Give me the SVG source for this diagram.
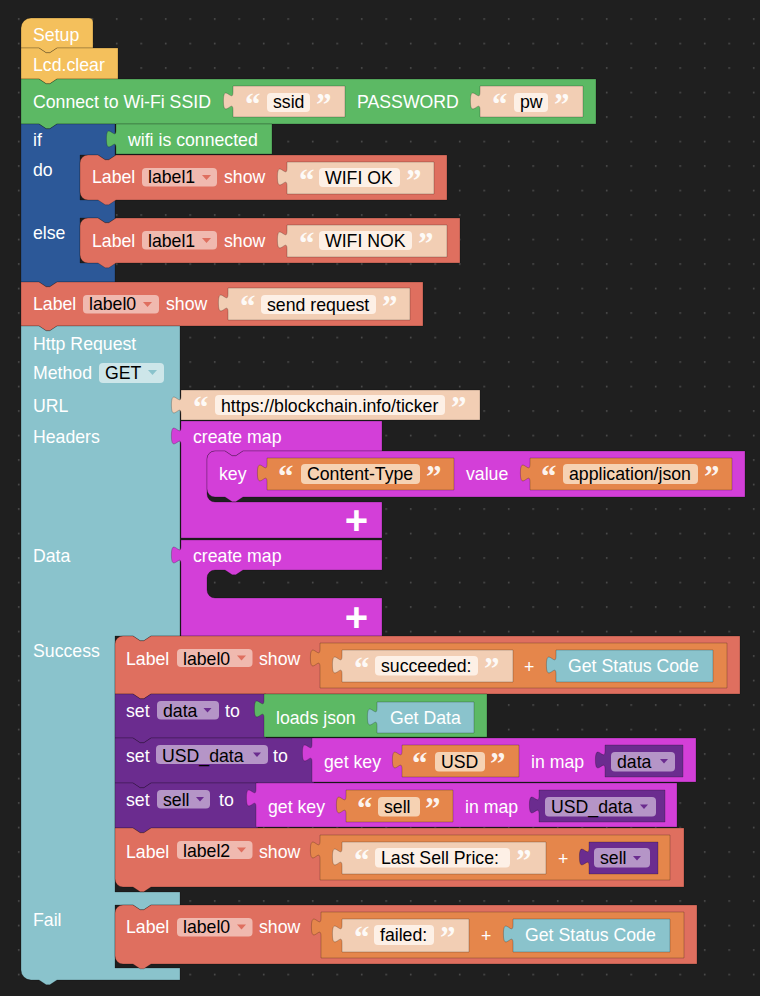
<svg xmlns="http://www.w3.org/2000/svg" width="760" height="996" viewBox="0 0 760 996">
<defs>
<pattern id="grid" x="17.9" y="18.2" width="24.5" height="24.5" patternUnits="userSpaceOnUse">
<rect x="0" y="0" width="1.6" height="1.6" fill="#505050"/>
</pattern>
<style>
.blk{stroke:#000;stroke-opacity:0.22;stroke-width:1}
.y{fill:#f4c05c}.g{fill:#5cb964}.b{fill:#2c5898}.r{fill:#df6f5f}.p{fill:#f2ceb4}.o{fill:#e5864b}.m{fill:#d33fd8}.c{fill:#8ac3cc}.v{fill:#6b2c8f}
.t{font-family:"Liberation Sans",Arial,sans-serif;font-size:17.7px;fill:#fff}
.k{fill:#000}
.q{font-family:"Liberation Serif","Times New Roman",serif;font-weight:bold;font-size:31px;fill:#fff;fill-opacity:0.92}
.plus{font-family:"Liberation Sans",Arial,sans-serif;font-weight:bold;font-size:40px;fill:#fff;text-anchor:middle}
.pl{fill:#f0b9af}.pv{fill:#b595c7}.ps{fill:#fdf0e6}.po{fill:#f6d2b3}.pc{fill:#cde6e9}
.al{fill:#df6f5f}.av{fill:#6b2c8f}.ac{fill:#8ac3cc}
</style>
</defs>
<rect x="0" y="0" width="760" height="996" fill="#1f1f1f"/>
<rect x="0" y="0" width="760" height="996" fill="url(#grid)"/>

<g id="setup">
<path class="blk y" d="M21,48 V28 a10,10 0 0 1 10,-10 H89 a4,4 0 0 1 4,4 V48 H57 l-7.2,4.8 h-3.6 l-7.2,-4.8 H21 Z"/>
<text class="t" x="33" y="40.5">Setup</text>
</g>
<g id="lcd_clear">
<path class="blk y" d="M21,48 H39 l7.2,4.8 h3.6 l7.2,-4.8 H118 V79 H57 l-7.2,4.8 h-3.6 l-7.2,-4.8 H21 Z"/>
<text class="t" x="33" y="71">Lcd.clear</text>
</g>
<g id="connect_wifi">
<path class="blk g" d="M21,79 H39 l7.2,4.8 h3.6 l7.2,-4.8 H596 V124 H57 l-7.2,4.8 h-3.6 l-7.2,-4.8 H21 Z"/>
<text class="t" x="33" y="108">Connect to Wi-Fi SSID</text>
<text class="t" x="357" y="108">PASSWORD</text>
</g>
<g id="ssid">
<path class="blk p" d="M233,86 v6 c0,12 -9.6,-9.6 -9.6,9 s9.6,-3 9.6,9 V117 H345 V86 Z"/>
<text class="q" x="245" y="115">“</text>
<rect class="ps" x="267" y="93" width="43" height="19" rx="4"/>
<text class="t k" x="273" y="108">ssid</text>
<text class="q" x="316" y="115">”</text>
</g>
<g id="pw">
<path class="blk p" d="M480,86 v6 c0,12 -9.6,-9.6 -9.6,9 s9.6,-3 9.6,9 V117 H583 V86 Z"/>
<text class="q" x="492" y="115">“</text>
<rect class="ps" x="514" y="93" width="34" height="19" rx="4"/>
<text class="t k" x="520" y="108">pw</text>
<text class="q" x="554" y="115">”</text>
</g>

<g id="if_block">
<path class="blk b" d="M21,124 H39 l7.2,4.8 h3.6 l7.2,-4.8 H115 V155 H116 l-7.2,4.8 h-3.6 l-7.2,-4.8 H80 V200 H115 V218 H116 l-7.2,4.8 h-3.6 l-7.2,-4.8 H80 V263 H115 V282 H57 l-7.2,4.8 h-3.6 l-7.2,-4.8 H21 Z"/>
<text class="t" x="33" y="146">if</text>
<text class="t" x="33" y="176">do</text>
<text class="t" x="33" y="239">else</text>
</g>
<g id="wifi_connected">
<path class="blk g" d="M116,124 v6 c0,12 -9.6,-9.6 -9.6,9 s9.6,-3 9.6,9 V154 H272 V124 Z"/>
<text class="t" x="128" y="146">wifi is connected</text>
</g>
<g id="label_wifi_ok">
<path class="blk r" d="M80,163 a8,8 0 0 1 8,-8 H98 l7.2,4.8 h3.6 l7.2,-4.8 H447 V200 H116 l-7.2,4.8 h-3.6 l-7.2,-4.8 H88 a8,8 0 0 1 -8,-8 Z"/>
<text class="t" x="92" y="183">Label</text>
<rect class="pl" x="142" y="168" width="75" height="18.5" rx="4"/>
<text class="t k" x="148" y="183">label1</text>
<path class="al" d="M202,175 h9 l-4.5,5 Z"/>
<text class="t" x="224" y="183">show</text>
<path class="blk p" d="M287,162 v6 c0,12 -9.6,-9.6 -9.6,9 s9.6,-3 9.6,9 V194 H434 V162 Z"/>
<text class="q" x="299" y="191">“</text>
<rect class="ps" x="319" y="168" width="81" height="19" rx="4"/>
<text class="t k" x="325" y="184">WIFI OK</text>
<text class="q" x="406" y="191">”</text>
</g>
<g id="label_wifi_nok">
<path class="blk r" d="M80,226 a8,8 0 0 1 8,-8 H98 l7.2,4.8 h3.6 l7.2,-4.8 H460 V263 H116 l-7.2,4.8 h-3.6 l-7.2,-4.8 H88 a8,8 0 0 1 -8,-8 Z"/>
<text class="t" x="92" y="246.5">Label</text>
<rect class="pl" x="142" y="231" width="75" height="18.5" rx="4"/>
<text class="t k" x="148" y="246.5">label1</text>
<path class="al" d="M202,238 h9 l-4.5,5 Z"/>
<text class="t" x="224" y="246.5">show</text>
<path class="blk p" d="M287,225 v6 c0,12 -9.6,-9.6 -9.6,9 s9.6,-3 9.6,9 V257 H447 V225 Z"/>
<text class="q" x="299" y="254">“</text>
<rect class="ps" x="319" y="231" width="93" height="19" rx="4"/>
<text class="t k" x="325" y="247">WIFI NOK</text>
<text class="q" x="418" y="254">”</text>
</g>

<g id="label_send_request">
<path class="blk r" d="M21,282 H39 l7.2,4.8 h3.6 l7.2,-4.8 H423 V326 H57 l-7.2,4.8 h-3.6 l-7.2,-4.8 H21 Z"/>
<text class="t" x="33" y="310">Label</text>
<rect class="pl" x="83" y="295" width="76" height="18.5" rx="4"/>
<text class="t k" x="89" y="310">label0</text>
<path class="al" d="M143,302 h9 l-4.5,5 Z"/>
<text class="t" x="166" y="310">show</text>
<path class="blk p" d="M228,288 v6 c0,12 -9.6,-9.6 -9.6,9 s9.6,-3 9.6,9 V320 H410 V288 Z"/>
<text class="q" x="240" y="317">“</text>
<rect class="ps" x="261" y="295" width="115" height="19" rx="4"/>
<text class="t k" x="267" y="310.5">send request</text>
<text class="q" x="382" y="317">”</text>
</g>

<g id="http_request">
<path class="blk c" d="M21,326 H39 l7.2,4.8 h3.6 l7.2,-4.8 H180 V636 H151 l-7.2,4.8 h-3.6 l-7.2,-4.8 H115 V892 H180 V905 H151 l-7.2,4.8 h-3.6 l-7.2,-4.8 H115 V968 H180 V980 H57 l-7.2,4.8 h-3.6 l-7.2,-4.8 H31 a10,10 0 0 1 -10,-10 Z"/>
<text class="t" x="33" y="350">Http Request</text>
<text class="t" x="33" y="378.5">Method</text>
<rect class="pc" x="99" y="363" width="65" height="20" rx="4"/>
<text class="t k" x="105" y="378.5">GET</text>
<path class="ac" d="M148,370 h9 l-4.5,5 Z"/>
<text class="t" x="33" y="412">URL</text>
<text class="t" x="33" y="443">Headers</text>
<text class="t" x="33" y="562">Data</text>
<text class="t" x="33" y="657">Success</text>
<text class="t" x="33" y="926">Fail</text>
</g>
<g id="url">
<path class="blk p" d="M181,390 v6 c0,12 -9.6,-9.6 -9.6,9 s9.6,-3 9.6,9 V420 H480 V390 Z"/>
<text class="q" x="193" y="418">“</text>
<rect class="ps" x="215" y="395" width="230" height="20" rx="4"/>
<text class="t k" x="221" y="411.5">https://blockchain.info/ticker</text>
<text class="q" x="451" y="418">”</text>
</g>
<g id="headers_map">
<path class="blk m" d="M181,421 v6 c0,12 -9.6,-9.6 -9.6,9 s9.6,-3 9.6,9 V538 H382 V502 H215 a8,8 0 0 1 -8,-8 V459 a8,8 0 0 1 8,-8 H225 l7.2,4.8 h3.6 l7.2,-4.8 H382 V421 Z"/>
<text class="t" x="193" y="443">create map</text>
<text class="plus" x="356.5" y="534">+</text>
</g>
<g id="map_item">
<path class="blk m" d="M207,459 a8,8 0 0 1 8,-8 H225 l7.2,4.8 h3.6 l7.2,-4.8 H745 V497 H243 l-7.2,4.8 h-3.6 l-7.2,-4.8 H215 a8,8 0 0 1 -8,-8 Z"/>
<text class="t" x="219" y="480">key</text>
<path class="blk o" d="M267,458 v6 c0,12 -9.6,-9.6 -9.6,9 s9.6,-3 9.6,9 V490 H454 V458 Z"/>
<text class="q" x="278" y="487">“</text>
<rect class="po" x="301" y="464" width="119" height="20" rx="4"/>
<text class="t k" x="307" y="480">Content-Type</text>
<text class="q" x="426" y="487">”</text>
<text class="t" x="466" y="480">value</text>
<path class="blk o" d="M530,458 v6 c0,12 -9.6,-9.6 -9.6,9 s9.6,-3 9.6,9 V490 H732 V458 Z"/>
<text class="q" x="541" y="487">“</text>
<rect class="po" x="563" y="464" width="135" height="20" rx="4"/>
<text class="t k" x="569" y="480">application/json</text>
<text class="q" x="704" y="487">”</text>
</g>
<g id="data_map">
<path class="blk m" d="M181,540 v6 c0,12 -9.6,-9.6 -9.6,9 s9.6,-3 9.6,9 V636 H382 V598 H215 a8,8 0 0 1 -8,-8 V578 a8,8 0 0 1 8,-8 H225 l7.2,4.8 h3.6 l7.2,-4.8 H382 V540 Z"/>
<text class="t" x="193" y="562">create map</text>
<text class="plus" x="356.5" y="631">+</text>
</g>

<g id="label_succeeded">
<path class="blk r" d="M115,644 a8,8 0 0 1 8,-8 H133 l7.2,4.8 h3.6 l7.2,-4.8 H740 V694 H151 l-7.2,4.8 h-3.6 l-7.2,-4.8 H115 Z"/>
<text class="t" x="126" y="665">Label</text>
<rect class="pl" x="177" y="649" width="75.5" height="18" rx="4"/>
<text class="t k" x="183" y="664.5">label0</text>
<path class="al" d="M237,655.5 h9 l-4.5,5 Z"/>
<text class="t" x="259" y="665">show</text>
<path class="blk o" d="M320,643 v6 c0,12 -9.6,-9.6 -9.6,9 s9.6,-3 9.6,9 V688 H727 V643 Z"/>
<path class="blk p" d="M342,650 v6 c0,12 -9.6,-9.6 -9.6,9 s9.6,-3 9.6,9 V682 H513 V650 Z"/>
<text class="q" x="354" y="679">“</text>
<rect class="ps" x="375" y="656" width="103" height="19.5" rx="4"/>
<text class="t k" x="381" y="672">succeeded:</text>
<text class="q" x="484" y="679">”</text>
<text class="t" x="524" y="673">+</text>
<path class="blk c" d="M556,650 v6 c0,12 -9.6,-9.6 -9.6,9 s9.6,-3 9.6,9 V682 H713 V650 Z"/>
<text class="t" x="568" y="672">Get Status Code</text>
</g>
<g id="set_data">
<path class="blk v" d="M115,694 H133 l7.2,4.8 h3.6 l7.2,-4.8 H266 V738 H151 l-7.2,4.8 h-3.6 l-7.2,-4.8 H115 Z"/>
<text class="t" x="126" y="717">set</text>
<rect class="pv" x="157" y="701" width="62" height="18.5" rx="4"/>
<text class="t k" x="163" y="716.5">data</text>
<path class="av" d="M203.5,708 h8 l-4,4.5 Z"/>
<text class="t" x="225" y="717">to</text>
<path class="blk g" d="M264,694 v6 c0,12 -9.6,-9.6 -9.6,9 s9.6,-3 9.6,9 V737 H487 V694 Z"/>
<text class="t" x="276" y="724">loads json</text>
<path class="blk c" d="M377,702 v6 c0,12 -9.6,-9.6 -9.6,9 s9.6,-3 9.6,9 V733 H474 V702 Z"/>
<text class="t" x="390" y="724">Get Data</text>
</g>
<g id="set_usd_data">
<path class="blk v" d="M115,738 H133 l7.2,4.8 h3.6 l7.2,-4.8 H314 V783 H151 l-7.2,4.8 h-3.6 l-7.2,-4.8 H115 Z"/>
<text class="t" x="126" y="761.5">set</text>
<rect class="pv" x="156" y="745" width="112" height="19" rx="4"/>
<text class="t k" x="162" y="761.5">USD_data</text>
<path class="av" d="M253,752.5 h8 l-4,4.5 Z"/>
<text class="t" x="273" y="761.5">to</text>
<path class="blk m" d="M312,738 v6 c0,12 -9.6,-9.6 -9.6,9 s9.6,-3 9.6,9 V782 H696 V738 Z"/>
<text class="t" x="324" y="768">get key</text>
<path class="blk o" d="M402,745 v6 c0,12 -9.6,-9.6 -9.6,9 s9.6,-3 9.6,9 V777 H519 V745 Z"/>
<text class="q" x="412" y="774">“</text>
<rect class="po" x="435" y="752" width="50" height="19.5" rx="4"/>
<text class="t k" x="441" y="768">USD</text>
<text class="q" x="490" y="774">”</text>
<text class="t" x="531" y="768">in map</text>
<path class="blk v" d="M605,745 v6 c0,12 -9.6,-9.6 -9.6,9 s9.6,-3 9.6,9 V777 H683 V745 Z"/>
<rect class="pv" x="611" y="752" width="64" height="19.5" rx="4"/>
<text class="t k" x="617" y="768">data</text>
<path class="av" d="M660,759 h8 l-4,4.5 Z"/>
</g>
<g id="set_sell">
<path class="blk v" d="M115,783 H133 l7.2,4.8 h3.6 l7.2,-4.8 H258 V828 H151 l-7.2,4.8 h-3.6 l-7.2,-4.8 H115 Z"/>
<text class="t" x="126" y="806">set</text>
<rect class="pv" x="157" y="790" width="53" height="18.5" rx="4"/>
<text class="t k" x="163" y="805.5">sell</text>
<path class="av" d="M196,797 h8 l-4,4.5 Z"/>
<text class="t" x="219" y="806">to</text>
<path class="blk m" d="M256,783 v6 c0,12 -9.6,-9.6 -9.6,9 s9.6,-3 9.6,9 V827 H677 V783 Z"/>
<text class="t" x="268" y="813">get key</text>
<path class="blk o" d="M346,790 v6 c0,12 -9.6,-9.6 -9.6,9 s9.6,-3 9.6,9 V822 H453 V790 Z"/>
<text class="q" x="357" y="819">“</text>
<rect class="po" x="378" y="797" width="42" height="19.5" rx="4"/>
<text class="t k" x="384" y="813">sell</text>
<text class="q" x="425" y="819">”</text>
<text class="t" x="465" y="813">in map</text>
<path class="blk v" d="M539,790 v6 c0,12 -9.6,-9.6 -9.6,9 s9.6,-3 9.6,9 V822 H665 V790 Z"/>
<rect class="pv" x="545" y="797" width="111" height="19.5" rx="4"/>
<text class="t k" x="551" y="813">USD_data</text>
<path class="av" d="M640,804.5 h8 l-4,4.5 Z"/>
</g>
<g id="label_last_sell_price">
<path class="blk r" d="M115,828 H133 l7.2,4.8 h3.6 l7.2,-4.8 H684 V887 H151 l-7.2,4.8 h-3.6 l-7.2,-4.8 H123 a8,8 0 0 1 -8,-8 Z"/>
<text class="t" x="126" y="858">Label</text>
<rect class="pl" x="177" y="841" width="75.5" height="18" rx="4"/>
<text class="t k" x="183" y="857">label2</text>
<path class="al" d="M237,847.5 h9 l-4.5,5 Z"/>
<text class="t" x="259" y="858">show</text>
<path class="blk o" d="M320,835 v6 c0,12 -9.6,-9.6 -9.6,9 s9.6,-3 9.6,9 V880 H670 V835 Z"/>
<path class="blk p" d="M342,842 v6 c0,12 -9.6,-9.6 -9.6,9 s9.6,-3 9.6,9 V874 H546 V842 Z"/>
<text class="q" x="354" y="871">“</text>
<rect class="ps" x="375" y="848" width="135" height="19.5" rx="4"/>
<text class="t k" x="381" y="864">Last Sell Price:</text>
<text class="q" x="516" y="871">”</text>
<text class="t" x="558" y="865">+</text>
<path class="blk v" d="M589,842 v6 c0,12 -9.6,-9.6 -9.6,9 s9.6,-3 9.6,9 V874 H658 V842 Z"/>
<rect class="pv" x="594" y="848" width="56" height="19.5" rx="4"/>
<text class="t k" x="600" y="864">sell</text>
<path class="av" d="M633,856 h8 l-4,4.5 Z"/>
</g>
<g id="label_failed">
<path class="blk r" d="M115,913 a8,8 0 0 1 8,-8 H133 l7.2,4.8 h3.6 l7.2,-4.8 H697 V964 H151 l-7.2,4.8 h-3.6 l-7.2,-4.8 H123 a8,8 0 0 1 -8,-8 Z"/>
<text class="t" x="126" y="933">Label</text>
<rect class="pl" x="177" y="918" width="75.5" height="18.5" rx="4"/>
<text class="t k" x="183" y="933">label0</text>
<path class="al" d="M237,924.5 h9 l-4.5,5 Z"/>
<text class="t" x="259" y="933">show</text>
<path class="blk o" d="M321,912 v6 c0,12 -9.6,-9.6 -9.6,9 s9.6,-3 9.6,9 V958 H684 V912 Z"/>
<path class="blk p" d="M342,919 v6 c0,12 -9.6,-9.6 -9.6,9 s9.6,-3 9.6,9 V952 H469 V919 Z"/>
<text class="q" x="354" y="948">“</text>
<rect class="ps" x="374" y="925" width="60" height="20" rx="4"/>
<text class="t k" x="380" y="941">failed:</text>
<text class="q" x="440" y="948">”</text>
<text class="t" x="481" y="942">+</text>
<path class="blk c" d="M513,919 v6 c0,12 -9.6,-9.6 -9.6,9 s9.6,-3 9.6,9 V952 H670 V919 Z"/>
<text class="t" x="525" y="941">Get Status Code</text>
</g>
<g id="connectors"></g>
</svg>
